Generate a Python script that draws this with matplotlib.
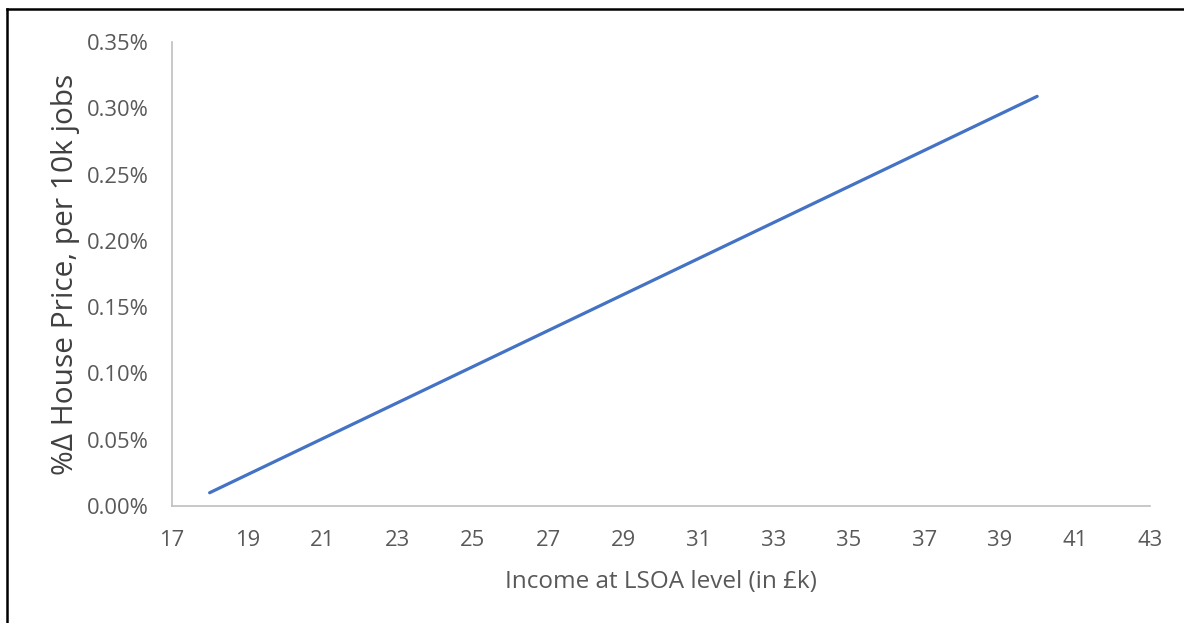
import matplotlib
matplotlib.use("Agg")
import matplotlib.pyplot as plt
from matplotlib.lines import Line2D
from matplotlib.ticker import FuncFormatter

# Data
income_k = [18, 40]
house_price_pct = [0.0001, 0.00309]   # fraction (0.01% .. 0.309%)
x_ticks = list(range(17, 44, 2))
y_ticks = [0.0, 0.0005, 0.001, 0.0015, 0.002, 0.0025, 0.003, 0.0035]
x_label = "Income at LSOA level (in £k)"
y_label = "%Δ House Price, per 10k jobs"

plt.rcParams['font.family'] = ['Open Sans', 'DejaVu Sans']

fig = plt.figure(figsize=(11.84, 6.23), dpi=100)
ax = fig.add_axes([172/1184, 117/623, (1150-172)/1184, (506-42)/623])

ax.plot(income_k, house_price_pct, color="#4472C4", linewidth=2.3, solid_capstyle="round")

ax.set_xlim(17, 43)
ax.set_ylim(0, 0.0035)
ax.set_xticks(x_ticks)
ax.set_yticks(y_ticks)
ax.yaxis.set_major_formatter(FuncFormatter(lambda v, p: f"{v*100:.2f}%"))

for s in ["top", "right"]:
    ax.spines[s].set_visible(False)
for s in ["left", "bottom"]:
    ax.spines[s].set_color("#BFBFBF")
    ax.spines[s].set_linewidth(1.2)

ax.tick_params(axis="both", length=0, labelsize=15.8, labelcolor="#595959")
ax.tick_params(axis="y", pad=17)
ax.tick_params(axis="x", pad=17)

ax.set_xlabel(x_label, fontsize=17.5, color="#595959", labelpad=14)
ax.set_ylabel(y_label, fontsize=21.5, color="#404040", labelpad=5)

# Outer border (only top and left visible in reference)
fig.add_artist(Line2D([7/1184, 7/1184], [0, 1 - 9/623], transform=fig.transFigure,
                      color="black", linewidth=1.8))
fig.add_artist(Line2D([7/1184, 1], [1 - 9/623, 1 - 9/623], transform=fig.transFigure,
                      color="black", linewidth=1.8))

fig.savefig("out.png", dpi=100, facecolor="white")
